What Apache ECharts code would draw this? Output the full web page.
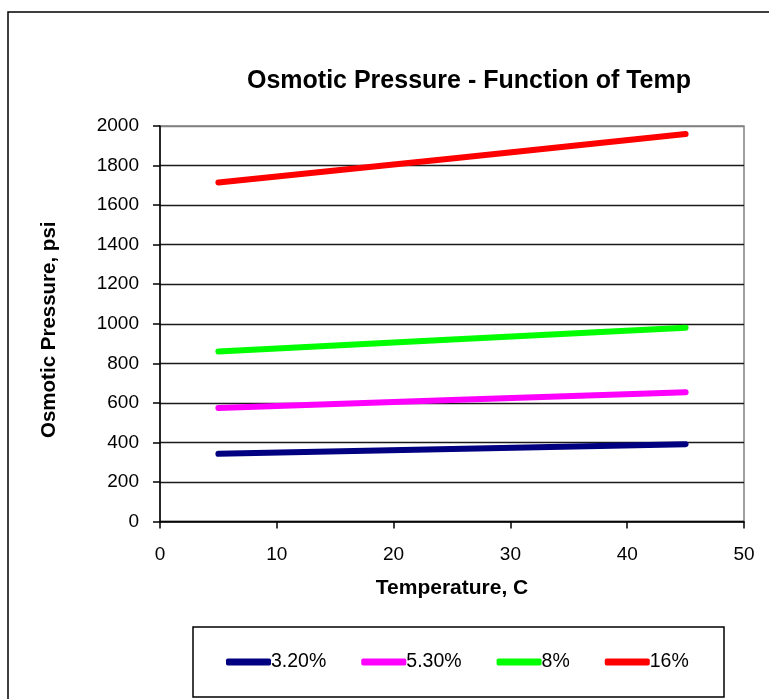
<!DOCTYPE html>
<html>
<head>
<meta charset="utf-8">
<script src="https://cdn.jsdelivr.net/npm/echarts@6/dist/echarts.min.js"></script>
<style>
html,body{margin:0;padding:0;background:#fff;}
#chart{width:769px;height:699px;}
</style>
</head>
<body>
<div id="chart"></div>
<script>
var temperatures = [5, 25, 45];
var seriesNames = ['3.20%', '5.30%', '8%', '16%'];
var s32 = [342, 366, 391];
var s53 = [574, 614, 653];
var s8 = [860, 920, 980];
var s16 = [1714, 1836, 1959];
var seriesColors = ['#000080', '#FF00FF', '#00FF00', '#FF0000'];
var yTicks = [0, 200, 400, 600, 800, 1000, 1200, 1400, 1600, 1800, 2000];
var xTicks = [0, 10, 20, 30, 40, 50];

var allValues = [s32, s53, s8, s16];
function pairs(vals) {
  return temperatures.map(function (t, i) { return [t, vals[i]]; });
}

var font = 'Arial, "Liberation Sans", Helvetica, sans-serif';
var chart = echarts.init(document.getElementById('chart'));
var gridColors = yTicks.map(function (v, i) { return i === yTicks.length - 1 ? '#808080' : '#1a1a1a'; });

chart.setOption({
  animation: false,
  backgroundColor: '#fff',
  textStyle: { fontFamily: font },
  title: {
    text: 'Osmotic Pressure - Function of Temp',
    left: 464,
    textAlign: 'center',
    top: 64,
    textStyle: { fontFamily: font, fontSize: 25, fontWeight: 'bold', color: '#000' }
  },
  graphic: [
    { type: 'rect', shape: { x: 8, y: 12, width: 800, height: 760 }, style: { fill: 'none', stroke: '#000', lineWidth: 1.5 }, z: 100 },
    { type: 'rect', shape: { x: 193, y: 627, width: 531, height: 70 }, style: { fill: 'none', stroke: '#000', lineWidth: 1.5 }, z: 100 }
  ],
  legend: {
    left: 226,
    top: 652,
    padding: 0,
    itemWidth: 45,
    itemHeight: 7,
    itemGap: 35,
    icon: 'roundRect',
    data: seriesNames,
    textStyle: { fontFamily: font, fontSize: 19.5, color: '#000', lineHeight: 20, padding: [0, 0, 0, -5] }
  },
  grid: {
    left: 160, right: 25, top: 126, bottom: 177.5,
    show: true, borderColor: '#808080', borderWidth: 1.5, backgroundColor: 'transparent'
  },
  xAxis: {
    type: 'value',
    min: 0, max: 50, interval: 10,
    name: 'Temperature, C',
    nameLocation: 'middle',
    nameGap: 56,
    nameTextStyle: { fontFamily: font, fontSize: 21, fontWeight: 'bold', color: '#000' },
    axisLine: { show: true, lineStyle: { color: '#000', width: 1.5 } },
    axisTick: { show: true, inside: false, length: 7, lineStyle: { color: '#000', width: 1.5 } },
    axisLabel: { fontFamily: font, fontSize: 19, color: '#000', margin: 24, formatter: function (v) { return xTicks.indexOf(v) >= 0 ? String(v) : ''; } },
    splitLine: { show: false }
  },
  yAxis: {
    type: 'value',
    min: 0, max: 2000, interval: 200,
    name: 'Osmotic Pressure, psi',
    nameLocation: 'middle',
    nameGap: 100,
    nameRotate: 90,
    nameTextStyle: { fontFamily: font, fontSize: 20.5, fontWeight: 'bold', color: '#000', padding: [0, 12, 0, 0] },
    axisLine: { show: true, lineStyle: { color: '#000', width: 1.5 } },
    axisTick: { show: true, inside: false, length: 7, lineStyle: { color: '#000', width: 1.5 } },
    axisLabel: { fontFamily: font, fontSize: 19, color: '#000', margin: 21, formatter: function (v) { return yTicks.indexOf(v) >= 0 ? String(v) : ''; } },
    splitLine: { show: true, lineStyle: { color: gridColors, width: 1.4 } }
  },
  series: seriesNames.map(function (name, i) {
    return {
      name: name,
      type: 'line',
      data: pairs(allValues[i]),
      showSymbol: false,
      symbol: 'none',
      color: seriesColors[i],
      lineStyle: { color: seriesColors[i], width: 6, cap: 'round', join: 'round' },
      z: 3 + i
    };
  })
});
</script>
</body>
</html>
